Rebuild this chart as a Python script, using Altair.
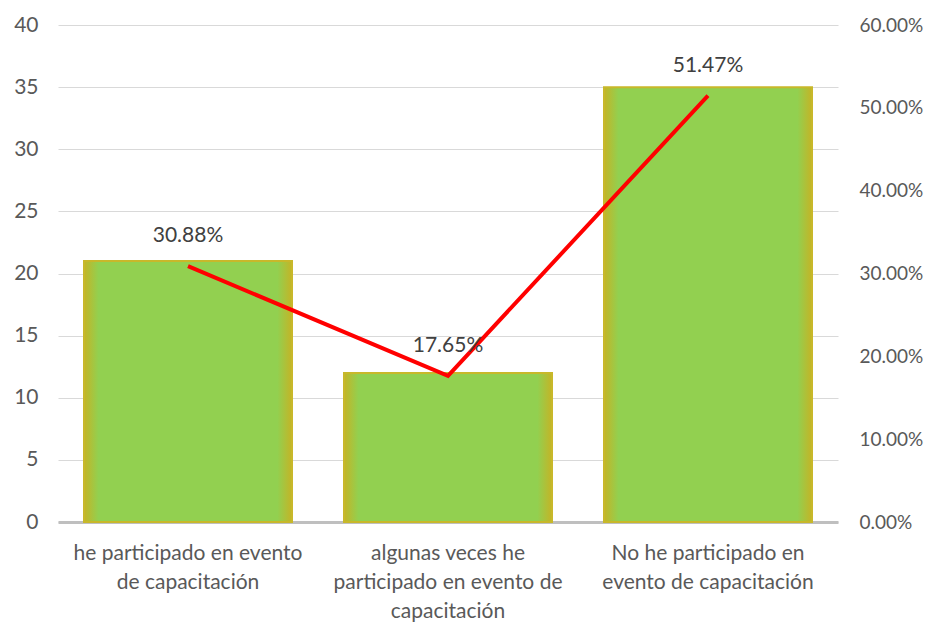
import altair as alt
import pandas as pd

categories = [
    "he participado en evento\nde capacitación",
    "algunas veces he\nparticipado en evento de\ncapacitación",
    "No he participado en\nevento de capacitación",
]
counts = [21, 12, 35]
percents = [0.3088, 0.1765, 0.5147]

df = pd.DataFrame({"cat": categories, "count": counts, "pct": percents})

FONT = "Lato"
LABEL_COLOR = "#595959"
FS = 21

x = alt.X(
    "cat:N",
    sort=categories,
    title=None,
    scale=alt.Scale(paddingInner=0.2, paddingOuter=0.1),
    axis=alt.Axis(
        labelAngle=0,
        labelExpr="split(datum.label, '\\n')",
        labelFont=FONT,
        labelFontSize=FS,
        labelColor=LABEL_COLOR,
        labelPadding=31,
        labelLineHeight=29,
        labelBaseline="middle",
        ticks=False,
        domainColor="#BFBFBF",
        domainWidth=3,
        labelLimit=400,
    ),
)

grad = alt.Gradient(
    gradient="linear",
    x1=0, x2=1, y1=0, y2=0,
    stops=[
        alt.GradientStop(offset=0, color="#C4B426"),
        alt.GradientStop(offset=0.07, color="#92D050"),
        alt.GradientStop(offset=0.93, color="#92D050"),
        alt.GradientStop(offset=1, color="#C4B426"),
    ],
)

bars = alt.Chart(df).mark_bar(
    color=grad, stroke="#C8B82A", strokeWidth=2
).encode(
    x=x,
    y=alt.Y(
        "count:Q",
        title=None,
        scale=alt.Scale(domain=[0, 40]),
        axis=alt.Axis(
            values=[0, 5, 10, 15, 20, 25, 30, 35, 40],
            orient="left",
            ticks=False,
            domain=False,
            grid=True,
            gridColor="#D9D9D9",
            gridWidth=1,
            labelFont=FONT,
            labelFontSize=FS,
            labelColor=LABEL_COLOR,
            labelPadding=20,
        ),
    ),
)

yr = alt.Y(
    "pct:Q",
    title=None,
    scale=alt.Scale(domain=[0, 0.6]),
    axis=alt.Axis(
        values=[0, 0.1, 0.2, 0.3, 0.4, 0.5, 0.6],
        format=".2%",
        orient="right",
        ticks=False,
        domain=False,
        grid=False,
        labelFont=FONT,
        labelFontSize=19,
        labelColor=LABEL_COLOR,
        labelPadding=21,
    ),
)

line = alt.Chart(df).mark_line(color="#FF0000", strokeWidth=4).encode(x=x, y=yr)

text = alt.Chart(df).mark_text(
    dy=-30, font=FONT, fontSize=FS, color="#404040"
).encode(x=x, y=yr, text=alt.Text("pct:Q", format=".2%"))

chart = alt.layer(bars, line + text).resolve_scale(y="independent").properties(
    width=780,
    height=497,
    autosize=alt.AutoSizeParams(type="none"),
    padding={"left": 50, "top": 17, "right": 90, "bottom": 100},
).configure_view(stroke=None)

chart.save("out.html", embed_options={"renderer": "svg", "actions": False})
